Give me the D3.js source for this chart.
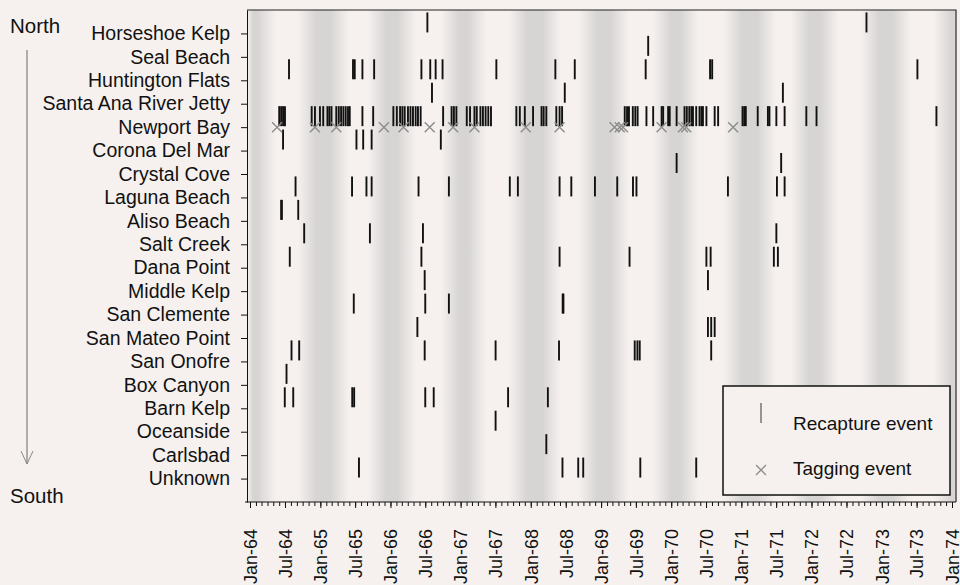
<!DOCTYPE html>
<meta charset="utf-8">
<style>
body {
  margin: 0;
  background: #f6f1ef;
  font-family: "Liberation Sans", Arial, sans-serif;
}
.axis text { font-family: "Liberation Sans", Arial, sans-serif; fill: #111; }
.axis path, .axis line { stroke: #111; }
</style>
<body>
<script src="https://d3js.org/d3.v7.min.js"></script>
<script>
var sites = ["Horseshoe Kelp", "Seal Beach", "Huntington Flats", "Santa Ana River Jetty",
  "Newport Bay", "Corona Del Mar", "Crystal Cove", "Laguna Beach", "Aliso Beach",
  "Salt Creek", "Dana Point", "Middle Kelp", "San Clemente", "San Mateo Point",
  "San Onofre", "Box Canyon", "Barn Kelp", "Oceanside", "Carlsbad", "Unknown"];

// recapture dates per site
var horseshoeKelp = ["1966-07-12", "1972-10-13"];
var sealBeach = ["1969-09-03"];
var huntingtonFlats = ["1964-07-22", "1965-06-20", "1965-06-29", "1965-08-08", "1965-10-08",
  "1966-06-11", "1966-07-27", "1966-08-24", "1966-09-29", "1967-07-06", "1968-05-08",
  "1968-08-17", "1969-08-21", "1970-07-22", "1970-08-02", "1973-07-05"];
var santaAnaRiverJetty = ["1966-08-05", "1968-06-26", "1971-08-05"];
var newportBay = ["1964-06-01", "1964-06-11", "1964-06-21", "1964-07-01",
  "1964-11-17", "1964-12-04", "1964-12-30", "1965-01-16", "1965-02-07", "1965-02-17",
  "1965-02-28", "1965-03-25", "1965-04-07", "1965-04-19", "1965-05-01", "1965-05-13",
  "1965-05-25", "1965-06-03", "1965-08-08", "1965-10-03",
  "1966-01-16", "1966-02-03", "1966-02-20", "1966-03-04", "1966-03-16", "1966-04-02",
  "1966-04-15", "1966-04-28", "1966-05-12", "1966-05-24", "1966-06-07", "1966-10-02",
  "1966-11-15", "1966-11-27", "1966-12-10", "1967-02-02", "1967-02-19", "1967-03-14",
  "1967-03-26", "1967-04-14", "1967-04-27", "1967-05-11", "1967-05-25", "1967-06-08",
  "1967-10-18", "1967-11-05", "1967-12-01", "1968-01-13", "1968-02-26", "1968-03-08",
  "1968-03-22", "1968-05-13", "1968-05-30", "1968-06-12",
  "1969-05-04", "1969-05-16", "1969-05-26", "1969-06-15", "1969-06-28", "1969-07-10",
  "1969-08-25", "1969-09-29", "1969-11-12", "1969-11-20", "1969-12-16", "1969-12-24",
  "1970-01-29", "1970-03-11", "1970-03-23", "1970-04-05", "1970-04-16", "1970-04-24",
  "1970-05-11", "1970-05-28", "1970-06-07", "1970-06-15", "1970-07-03", "1970-08-15",
  "1970-09-02", "1971-01-07", "1971-01-16", "1971-01-24", "1971-03-27", "1971-05-19",
  "1971-05-27", "1971-07-02", "1971-08-14", "1971-12-05", "1972-01-27", "1973-10-12"];
var coronaDelMar = ["1964-06-21", "1965-07-08", "1965-08-12", "1965-09-25", "1966-09-20"];
var crystalCove = ["1970-01-29", "1971-07-27"];
var lagunaBeach = ["1964-08-25", "1965-06-15", "1965-08-29", "1965-09-25", "1966-05-27",
  "1966-11-01", "1967-09-14", "1967-10-26", "1968-05-30", "1968-07-30", "1968-11-30",
  "1969-03-26", "1969-06-16", "1969-07-04", "1970-10-23", "1971-07-05", "1971-08-14"];
var alisoBeach = ["1964-06-11", "1964-06-15", "1964-09-08"];
var saltCreek = ["1964-10-09", "1965-09-16", "1966-06-19", "1971-07-02"];
var danaPoint = ["1964-07-26", "1966-06-11", "1968-05-30", "1969-05-29", "1970-07-03",
  "1970-07-25", "1971-06-19", "1971-07-10"];
var middleKelp = ["1966-06-28", "1970-07-11"];
var sanClemente = ["1965-06-24", "1966-07-01", "1966-11-01", "1968-06-15", "1968-06-19"];
var sanMateoPoint = ["1966-05-21", "1970-07-11", "1970-07-28", "1970-08-15"];
var sanOnofre = ["1964-08-04", "1964-09-13", "1966-06-28", "1967-07-02", "1968-05-27",
  "1969-06-25", "1969-07-09", "1969-07-21", "1970-07-28"];
var boxCanyon = ["1964-07-09"];
var barnKelp = ["1964-06-30", "1964-08-13", "1965-06-16", "1965-06-26", "1966-07-01",
  "1966-08-14", "1967-09-05", "1968-03-30"];
var oceanside = ["1967-07-02"];
var carlsbad = ["1968-03-22"];
var unknown = ["1965-07-21", "1968-06-14", "1968-09-04", "1968-09-30", "1969-07-24", "1970-05-11"];

var recaptures = [horseshoeKelp, sealBeach, huntingtonFlats, santaAnaRiverJetty, newportBay,
  coronaDelMar, crystalCove, lagunaBeach, alisoBeach, saltCreek, danaPoint, middleKelp,
  sanClemente, sanMateoPoint, sanOnofre, boxCanyon, barnKelp, oceanside, carlsbad, unknown];

// tagging events, all at Newport Bay
var tagging = ["1964-05-21", "1964-12-04", "1965-03-25", "1965-11-28", "1966-03-10",
  "1966-07-24", "1966-11-23", "1967-03-14", "1967-12-06", "1968-05-30", "1969-03-12",
  "1969-04-08", "1969-04-25", "1969-11-12", "1970-03-03", "1970-03-20", "1970-11-19"];

// shaded (winter) periods in the background
var bandStart = ["1963-12-01", "1964-10-23", "1965-10-22", "1966-11-06", "1967-10-25",
  "1968-10-24", "1969-11-13", "1970-11-17", "1971-11-01", "1972-10-30", "1973-11-14"];
var bandEnd = ["1964-03-28", "1965-04-12", "1966-03-26", "1967-03-30", "1968-04-19",
  "1969-04-08", "1970-04-07", "1971-05-12", "1972-04-05", "1973-04-14", "1974-03-01"];

var parse = d3.timeParse("%Y-%m-%d");
var plotL = 247, plotR = 956, plotT = 10, plotB = 502;

var svg = d3.select("body").append("svg").attr("width", 960).attr("height", 585);

var x = d3.scaleTime()
    .domain([parse("1964-01-01"), parse("1974-01-01")])
    .range([250, 952]);

var y = d3.scalePoint()
    .domain(sites)
    .range([plotT, plotB])
    .padding(1);

// background bands as one soft gradient
var light = "#f6f1ef", dark = "#d7d5d4", fade = 9;
var grad = svg.append("defs").append("linearGradient")
    .attr("id", "seasons")
    .attr("gradientUnits", "userSpaceOnUse")
    .attr("x1", plotL).attr("x2", plotR).attr("y1", 0).attr("y2", 0);
var stops = [];
bandStart.forEach(function(s, i) {
  var a = x(parse(s)), b = x(parse(bandEnd[i]));
  stops.push([a - fade, light], [a + fade, dark], [b - fade, dark], [b + fade, light]);
});
stops.forEach(function(s) {
  var off = Math.max(0, Math.min(1, (s[0] - plotL) / (plotR - plotL)));
  grad.append("stop").attr("offset", off).attr("stop-color", s[1]);
});

svg.append("rect")
    .attr("x", plotL).attr("y", plotT)
    .attr("width", plotR - plotL).attr("height", plotB - plotT)
    .attr("fill", "url(#seasons)");

// recapture marks
var marks = [];
recaptures.forEach(function(list, i) {
  list.forEach(function(d) { marks.push({site: sites[i], date: parse(d)}); });
});

svg.append("g").selectAll("line")
    .data(marks)
    .enter().append("line")
    .attr("x1", function(d) { return x(d.date); })
    .attr("x2", function(d) { return x(d.date); })
    .attr("y1", function(d) { return y(d.site) - 21; })
    .attr("y2", function(d) { return y(d.site) - 1; })
    .attr("stroke", "#111")
    .attr("stroke-width", 1.9);

// tagging marks
svg.append("g").selectAll("path")
    .data(tagging)
    .enter().append("path")
    .attr("transform", function(d) { return "translate(" + x(parse(d)) + "," + y("Newport Bay") + ")"; })
    .attr("d", "M-5,-5L5,5M-5,5L5,-5")
    .attr("stroke", "#8c8c8c")
    .attr("stroke-width", 1.4)
    .attr("fill", "none");

// frame
svg.append("path")
    .attr("d", "M" + plotL + "," + plotT + "H" + plotR + "V" + plotB)
    .attr("fill", "none")
    .attr("stroke", "#222")
    .attr("stroke-width", 1.2);

// y axis
var yAxis = svg.append("g")
    .attr("class", "axis")
    .attr("transform", "translate(" + plotL + ",0)")
    .call(d3.axisLeft(y).tickSize(6).tickSizeOuter(0).tickPadding(11));
yAxis.selectAll("text").style("font-size", "19.5px");

// x axis: monthly ticks, labels every six months
var xAxis = svg.append("g")
    .attr("class", "axis")
    .attr("transform", "translate(0," + plotB + ")")
    .call(d3.axisBottom(x).ticks(d3.timeMonth.every(1)).tickSize(4).tickFormat(""));
xAxis.select(".domain").remove();
xAxis.append("line").attr("x1", plotL - 2).attr("x2", plotR).attr("stroke", "#111");

var xLabels = svg.append("g")
    .attr("class", "axis")
    .attr("transform", "translate(0," + plotB + ")")
    .call(d3.axisBottom(x).ticks(d3.timeMonth.every(6)).tickSize(6).tickFormat(d3.timeFormat("%b-%y")));
xLabels.select(".domain").remove();
xLabels.selectAll("text")
    .attr("transform", "rotate(-90)")
    .attr("x", -27)
    .attr("y", 0)
    .attr("dy", "0.35em")
    .style("text-anchor", "end")
    .style("font-size", "18px");

// north / south arrow
svg.append("text").attr("x", 10).attr("y", 33).text("North").style("font-size", "20.5px").attr("fill", "#111");
svg.append("text").attr("x", 10).attr("y", 503).text("South").style("font-size", "20.5px").attr("fill", "#111");
svg.append("line").attr("x1", 27).attr("x2", 27).attr("y1", 50).attr("y2", 464)
    .attr("stroke", "#666").attr("stroke-width", 1);
svg.append("path").attr("d", "M21,451L27,464L33,451")
    .attr("fill", "none").attr("stroke", "#888").attr("stroke-width", 1);

// legend
var legend = svg.append("g").attr("transform", "translate(723,386)");
legend.append("rect").attr("width", 227).attr("height", 109)
    .attr("fill", "#f6f1ef").attr("stroke", "#111").attr("stroke-width", 1.5);
legend.append("line").attr("x1", 38).attr("x2", 38).attr("y1", 17).attr("y2", 37)
    .attr("stroke", "#555").attr("stroke-width", 1.2);
legend.append("text").attr("x", 70).attr("y", 44).text("Recapture event").style("font-size", "19px").attr("fill", "#111");
legend.append("path").attr("transform", "translate(38,84)")
    .attr("d", "M-5,-5L5,5M-5,5L5,-5").attr("stroke", "#8c8c8c").attr("stroke-width", 1.3);
legend.append("text").attr("x", 70).attr("y", 89).text("Tagging event").style("font-size", "19px").attr("fill", "#111");
</script>
</body>
